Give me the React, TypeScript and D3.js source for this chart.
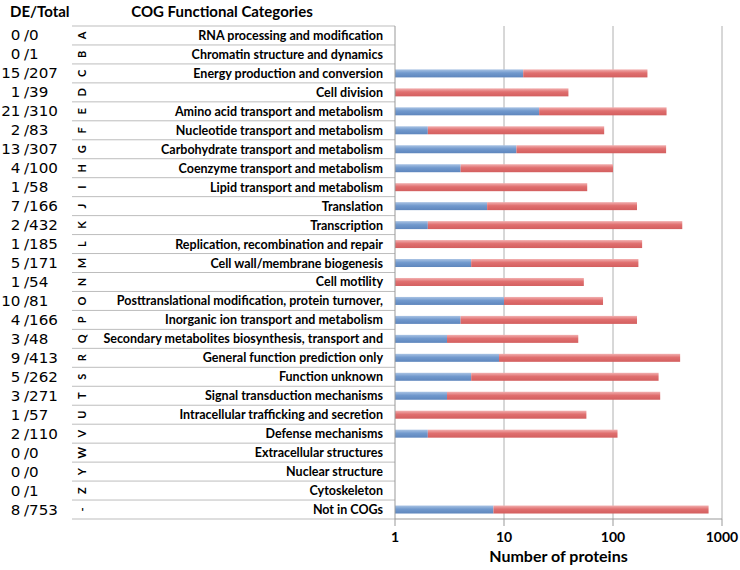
import * as d3 from "d3";

const letters = ["A","B","C","D","E","F","G","H","I","J","K","L","M","N","O","P","Q","R","S","T","U","V","W","Y","Z","-"];
const categories = [
  "RNA processing and modification",
  "Chromatin structure and dynamics",
  "Energy production and conversion",
  "Cell division",
  "Amino acid transport and metabolism",
  "Nucleotide transport and metabolism",
  "Carbohydrate transport and metabolism",
  "Coenzyme transport and metabolism",
  "Lipid transport and metabolism",
  "Translation",
  "Transcription",
  "Replication, recombination and repair",
  "Cell wall/membrane biogenesis",
  "Cell motility",
  "Posttranslational modification, protein turnover,",
  "Inorganic ion transport and metabolism",
  "Secondary metabolites biosynthesis, transport and",
  "General function prediction only",
  "Function unknown",
  "Signal transduction mechanisms",
  "Intracellular trafficking and secretion",
  "Defense mechanisms",
  "Extracellular structures",
  "Nuclear structure",
  "Cytoskeleton",
  "Not in COGs",
];
const deCounts = [0,0,15,1,21,2,13,4,1,7,2,1,5,1,10,4,3,9,5,3,1,2,0,0,0,8];
const totals = [0,1,207,39,310,83,307,100,58,166,432,185,171,54,81,166,48,413,262,271,57,110,0,0,1,753];
const xTicks = [1, 10, 100, 1000];

const FONT = "Lato, 'Open Sans', sans-serif";
const NUM_FONT = "'DejaVu Sans', sans-serif";

export default function App() {
  const width = 740;
  const height = 570;
  const plotLeft = 395;
  const plotRight = 722;
  const top = 26;
  const bottom = 519;
  const tableLeft = 72;
  const sx = 1.12; // number column is drawn a little wide

  const x = d3.scaleLog().domain([1, 1000]).range([plotLeft, plotRight]);
  const y = d3.scaleBand<string>().domain(letters).range([top, bottom]).padding(0);
  const bw = y.bandwidth();
  const barH = 8;

  return (
    <svg
      width={width}
      height={height}
      style={{ position: "absolute", left: 0, top: 0, background: "#fff" }}
      fontFamily={FONT}
    >
      <defs>
        <linearGradient id="gBlue" x1="0" y1="0" x2="0" y2="1">
          <stop offset="0" stopColor="#a9c3e4" />
          <stop offset="0.45" stopColor="#7199cd" />
          <stop offset="1" stopColor="#5e86bd" />
        </linearGradient>
        <linearGradient id="gRed" x1="0" y1="0" x2="0" y2="1">
          <stop offset="0" stopColor="#f2b0b0" />
          <stop offset="0.45" stopColor="#e06f6f" />
          <stop offset="1" stopColor="#d35f5f" />
        </linearGradient>
      </defs>

      {/* headers */}
      <text x={10} y={17} fontSize={15} fontWeight="bold" fill="#000">DE/Total</text>
      <text x={222} y={17} fontSize={15} fontWeight="bold" fill="#000" textAnchor="middle">COG Functional Categories</text>

      {/* row separators */}
      {letters.map((l) => (
        <line key={"r" + l} x1={tableLeft} x2={plotLeft} y1={y(l)!} y2={y(l)!} stroke="#bdbdbd" strokeWidth={1} />
      ))}
      <line x1={tableLeft} x2={plotLeft} y1={bottom} y2={bottom} stroke="#bdbdbd" strokeWidth={1} />

      {/* gridlines */}
      {xTicks.slice(1).map((t) => (
        <line key={"g" + t} x1={x(t)} x2={x(t)} y1={top} y2={bottom} stroke="#b0b0b0" strokeWidth={1} />
      ))}

      {/* rows */}
      {letters.map((l, i) => {
        const cy = y(l)! + bw / 2;
        const de = deCounts[i];
        const tot = totals[i];
        const redStart = Math.max(de, 1);
        return (
          <g key={l}>
            <g transform={`translate(0,${cy + 5}) scale(${sx},1)`} fontFamily={NUM_FONT} fontSize={13.5} fill="#000">
              <text x={20.5 / sx} textAnchor="end">{de}</text>
              <text x={24 / sx}>/{tot}</text>
            </g>
            <text
              transform={`translate(${82},${cy}) rotate(-90)`}
              fontSize={11}
              fontWeight="bold"
              textAnchor="middle"
              dy="0.35em"
              fill="#000"
            >{l}</text>
            <text x={383} y={cy + 4.5} fontSize={12.5} fontWeight="bold" textAnchor="end" fill="#000">{categories[i]}</text>
            {de > 1 && (
              <rect x={x(1)} y={cy - barH / 2} width={x(de) - x(1)} height={barH} fill="url(#gBlue)" />
            )}
            {tot > redStart && (
              <rect x={x(redStart)} y={cy - barH / 2} width={x(tot) - x(redStart)} height={barH} fill="url(#gRed)" />
            )}
          </g>
        );
      })}

      {/* axes */}
      <line x1={plotLeft} x2={plotLeft} y1={top} y2={bottom} stroke="#999" strokeWidth={1} />
      <line x1={plotLeft} x2={plotRight} y1={bottom} y2={bottom} stroke="#999" strokeWidth={1} />
      {xTicks.map((t) => (
        <g key={"t" + t}>
          <line x1={x(t)} x2={x(t)} y1={bottom} y2={bottom + 7} stroke="#999" strokeWidth={1} />
          <text x={x(t)} y={542} fontSize={14} fontWeight="bold" textAnchor="middle" fill="#000">{t}</text>
        </g>
      ))}
      <text x={(plotLeft + plotRight) / 2} y={562} fontSize={16} fontWeight="bold" textAnchor="middle" fill="#000">Number of proteins</text>
    </svg>
  );
}
